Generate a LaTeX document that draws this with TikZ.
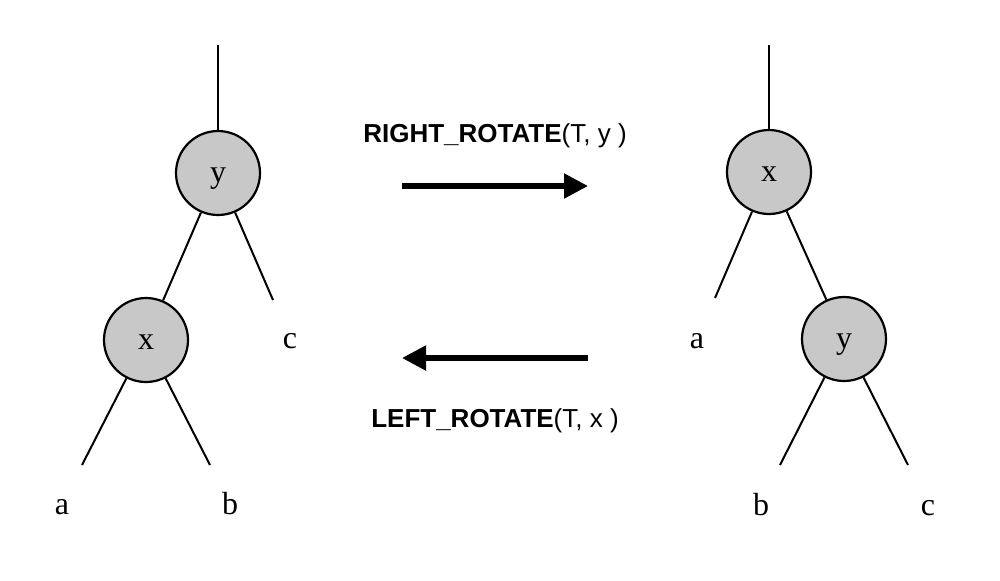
\documentclass[tikz,border=0pt]{standalone}
\usepackage{fontspec}
\setmainfont{Liberation Serif}
\setsansfont{Liberation Sans}
\usetikzlibrary{arrows.meta}
\definecolor{nodegray}{RGB}{200,200,200}
\begin{document}
\begin{tikzpicture}[x=0.5pt,y=-0.5pt,
    vertex/.style={circle,draw=black,line width=1.1pt,fill=nodegray,minimum size=42pt,inner sep=0pt,text height=9pt,text depth=0pt,font=\fontsize{16}{19}\selectfont},
    leaf/.style={anchor=base,inner sep=0pt,font=\fontsize{16}{19}\selectfont},
    edge/.style={line width=1pt},
    rot/.style={line width=2.6pt,-{Triangle[length=12pt,width=12pt]}},
    op/.style={anchor=base,inner sep=0pt,font=\sffamily\fontsize{13}{15}\selectfont}]
    \useasboundingbox (0,0) rectangle (1000,580);
    % before the rotation
    \coordinate (ltop) at (218,45);
    \node[vertex] (ly) at (218,173) {y};
    \node[vertex] (lx) at (146,340) {x};
    \coordinate (lcend) at (273,300);
    \coordinate (laend) at (82,465);
    \coordinate (lbend) at (210,465);
    \node[leaf] (lc) at (290,348) {c};
    \node[leaf] (la) at (62,514) {a};
    \node[leaf] (lb) at (230,514) {b};
    \draw[edge] (ltop) -- (ly);
    \draw[edge] (ly) -- (lx);
    \draw[edge] (ly) -- (lcend);
    \draw[edge] (lx) -- (laend);
    \draw[edge] (lx) -- (lbend);
    % after the rotation
    \coordinate (rtop) at (769,45);
    \node[vertex] (rx) at (769,172) {x};
    \node[vertex] (ry) at (844,339) {y};
    \coordinate (raend) at (715,298);
    \coordinate (rbend) at (780,465);
    \coordinate (rcend) at (908,465);
    \node[leaf] (ra) at (697,348) {a};
    \node[leaf] (rb) at (761,515) {b};
    \node[leaf] (rc) at (928,515) {c};
    \draw[edge] (rtop) -- (rx);
    \draw[edge] (rx) -- (ry);
    \draw[edge] (rx) -- (raend);
    \draw[edge] (ry) -- (rbend);
    \draw[edge] (ry) -- (rcend);
    % rotations
    \coordinate (rrs) at (402,186);
    \coordinate (rre) at (588,186);
    \coordinate (lrs) at (588,358);
    \coordinate (lre) at (402,358);
    \draw[rot] (rrs) -- (rre);
    \draw[rot] (lrs) -- (lre);
    \node[op] (rrlabel) at (495,142) {\textbf{RIGHT\_ROTATE}(T, y )};
    \node[op] (lrlabel) at (495,427) {\textbf{LEFT\_ROTATE}(T, x )};
\end{tikzpicture}
\end{document}
